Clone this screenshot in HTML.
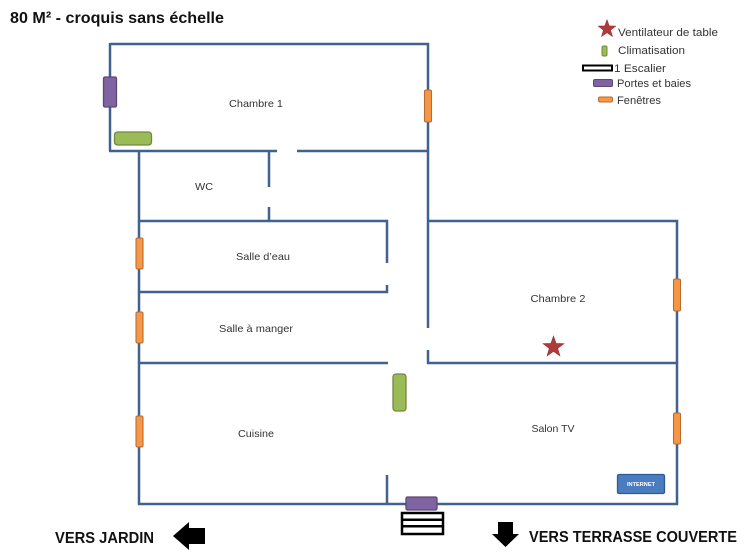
<!DOCTYPE html>
<html>
<head>
<meta charset="utf-8">
<style>
html,body{margin:0;padding:0;background:#fff;width:750px;height:560px;overflow:hidden;}
svg{display:block;}
text{font-family:"Liberation Sans",sans-serif;}
.rm{font-size:10.5px;fill:#333;text-anchor:middle;}
.lg{font-size:11px;fill:#333;}
.big{font-size:16px;font-weight:bold;fill:#111;}
</style>
</head>
<body>
<svg width="750" height="560" viewBox="0 0 750 560" xmlns="http://www.w3.org/2000/svg">
  <!-- Title -->
  <text class="big" x="10" y="23" textLength="214" lengthAdjust="spacingAndGlyphs">80 M² - croquis sans échelle</text>

  <!-- Walls -->
  <g stroke="#41618f" stroke-width="2.5" fill="none" stroke-linecap="butt">
    <!-- Chambre 1 -->
    <line x1="110" y1="44" x2="429" y2="44"/>
    <line x1="110" y1="43" x2="110" y2="151"/>
    <line x1="109" y1="151" x2="277" y2="151"/>
    <line x1="297" y1="151" x2="429" y2="151"/>
    <line x1="428" y1="43" x2="428" y2="328"/>
    <!-- left inner wall -->
    <line x1="139" y1="151" x2="139" y2="505"/>
    <!-- WC partition -->
    <line x1="269" y1="151" x2="269" y2="187"/>
    <line x1="269" y1="207" x2="269" y2="221"/>
    <!-- Salle d'eau -->
    <line x1="139" y1="221" x2="388" y2="221"/>
    <line x1="387" y1="220" x2="387" y2="263"/>
    <line x1="387" y1="285" x2="387" y2="293"/>
    <line x1="139" y1="292" x2="388" y2="292"/>
    <!-- Salle a manger bottom -->
    <line x1="139" y1="363" x2="388" y2="363"/>
    <!-- Chambre 2 -->
    <line x1="428" y1="221" x2="678" y2="221"/>
    <line x1="677" y1="220" x2="677" y2="505"/>
    <line x1="428" y1="350" x2="428" y2="364"/>
    <line x1="427" y1="363" x2="678" y2="363"/>
    <!-- bottom -->
    <line x1="138" y1="504" x2="678" y2="504"/>
    <line x1="387" y1="475" x2="387" y2="504"/>
  </g>

  <!-- Doors (purple) -->
  <rect x="103.5" y="77" width="13" height="30" rx="1.5" fill="#8064a2" stroke="#5c4776" stroke-width="1.3"/>
  <rect x="406" y="497" width="31" height="13" rx="1.5" fill="#8064a2" stroke="#5c4776" stroke-width="1.3"/>

  <!-- AC (green) -->
  <rect x="114.5" y="132" width="37" height="13" rx="3" fill="#9bbb59" stroke="#71893f" stroke-width="1.3"/>
  <rect x="393" y="374" width="13" height="37" rx="3" fill="#9bbb59" stroke="#71893f" stroke-width="1.3"/>

  <!-- Windows (orange) -->
  <g fill="#f79646" stroke="#b66d31" stroke-width="1.1">
    <rect x="424.5" y="90" width="7" height="32" rx="1.5"/>
    <rect x="136" y="238" width="7" height="31" rx="1.5"/>
    <rect x="136" y="312" width="7" height="31" rx="1.5"/>
    <rect x="136" y="416" width="7" height="31" rx="1.5"/>
    <rect x="673.5" y="279" width="7" height="32" rx="1.5"/>
    <rect x="673.5" y="413" width="7" height="31" rx="1.5"/>
  </g>

  <!-- Stairs -->
  <rect x="402" y="513" width="41" height="21" fill="#fff" stroke="#000" stroke-width="2.5"/>
  <rect x="402" y="518.5" width="41" height="2.5" fill="#000"/>
  <rect x="402" y="525" width="41" height="2.5" fill="#000"/>

  <!-- Internet box -->
  <rect x="617.5" y="474.5" width="47" height="19" rx="1.5" fill="#4a7cc0" stroke="#2f5a92" stroke-width="1.3"/>
  <text x="641" y="486" font-size="5.5" font-weight="bold" fill="#fff" text-anchor="middle" textLength="28" lengthAdjust="spacingAndGlyphs">INTERNET</text>

  <!-- Star in Chambre 2 -->
  <polygon transform="translate(553.5,347) scale(1.1)" points="0,-10 2.35,-3.24 9.51,-3.09 3.80,1.24 5.88,8.09 0,4 -5.88,8.09 -3.80,1.24 -9.51,-3.09 -2.35,-3.24" fill="#b0393a" stroke="#8e2a2c" stroke-width="0.5"/>

  <!-- Room labels -->
  <text class="rm" x="256" y="107" textLength="54" lengthAdjust="spacingAndGlyphs">Chambre 1</text>
  <text class="rm" x="204" y="190" textLength="18" lengthAdjust="spacingAndGlyphs">WC</text>
  <text class="rm" x="263" y="260" textLength="54" lengthAdjust="spacingAndGlyphs">Salle d’eau</text>
  <text class="rm" x="256" y="332" textLength="74" lengthAdjust="spacingAndGlyphs">Salle à manger</text>
  <text class="rm" x="558" y="302" textLength="55" lengthAdjust="spacingAndGlyphs">Chambre 2</text>
  <text class="rm" x="256" y="437" textLength="36" lengthAdjust="spacingAndGlyphs">Cuisine</text>
  <text class="rm" x="553" y="432" textLength="43" lengthAdjust="spacingAndGlyphs">Salon TV</text>

  <!-- Legend -->
  <polygon transform="translate(607,29) scale(0.95)" points="0,-10 2.35,-3.24 9.51,-3.09 3.80,1.24 5.88,8.09 0,4 -5.88,8.09 -3.80,1.24 -9.51,-3.09 -2.35,-3.24" fill="#b0393a" stroke="#8e2a2c" stroke-width="0.5"/>
  <text class="lg" x="618" y="36" textLength="100" lengthAdjust="spacingAndGlyphs">Ventilateur de table</text>
  <rect x="602" y="46" width="5" height="10" rx="1.5" fill="#9bbb59" stroke="#71893f" stroke-width="1"/>
  <text class="lg" x="618" y="54" textLength="67" lengthAdjust="spacingAndGlyphs">Climatisation</text>
  <rect x="583" y="65.5" width="29" height="5" fill="#fff" stroke="#000" stroke-width="2"/>
  <text class="lg" x="614" y="72" textLength="52" lengthAdjust="spacingAndGlyphs">1 Escalier</text>
  <rect x="593.5" y="79.5" width="19" height="7" rx="1.5" fill="#8064a2" stroke="#5c4776" stroke-width="1"/>
  <text class="lg" x="617" y="87" textLength="74" lengthAdjust="spacingAndGlyphs">Portes et baies</text>
  <rect x="598.5" y="97" width="14" height="5" rx="1.5" fill="#f79646" stroke="#b66d31" stroke-width="1"/>
  <text class="lg" x="617" y="104" textLength="44" lengthAdjust="spacingAndGlyphs">Fenêtres</text>

  <!-- Directions -->
  <text class="big" x="55" y="543" textLength="99" lengthAdjust="spacingAndGlyphs">VERS JARDIN</text>
  <polygon points="173,536 189,522 189,528 205,528 205,544 189,544 189,550" fill="#000"/>
  <polygon points="498,522 513,522 513,534 519,534 505.5,547 492,534 498,534" fill="#000"/>
  <text class="big" x="529" y="542" textLength="208" lengthAdjust="spacingAndGlyphs">VERS TERRASSE COUVERTE</text>
</svg>
</body>
</html>
